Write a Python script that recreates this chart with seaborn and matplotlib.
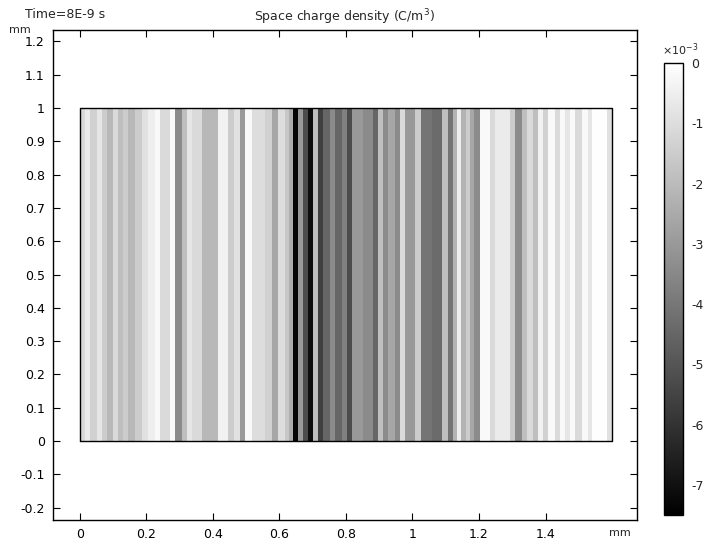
import numpy as np
import matplotlib
matplotlib.use("Agg")
import matplotlib.pyplot as plt
import seaborn as sns

# stripe edges along x (mm) and space charge density in each stripe (x1e-3 C/m^3)
x_edges = [0.000, 0.015, 0.030, 0.051, 0.066, 0.081, 0.099, 0.114, 0.129, 0.144,
           0.165, 0.186, 0.205, 0.226, 0.241, 0.271, 0.286, 0.307, 0.322, 0.337,
           0.367, 0.415, 0.445, 0.463, 0.481, 0.496, 0.517, 0.556, 0.577, 0.595,
           0.617, 0.629, 0.641, 0.656, 0.671, 0.686, 0.701, 0.716, 0.731, 0.752,
           0.767, 0.788, 0.803, 0.818, 0.851, 0.881, 0.896, 0.911, 0.926, 0.947,
           0.962, 0.977, 1.008, 1.026, 1.059, 1.089, 1.107, 1.122, 1.134, 1.146,
           1.161, 1.173, 1.185, 1.203, 1.233, 1.248, 1.293, 1.308, 1.329, 1.344,
           1.362, 1.377, 1.392, 1.408, 1.429, 1.444, 1.459, 1.474, 1.489, 1.510,
           1.528, 1.540, 1.585, 1.600]
y_edges = [0.0, 1.0]
rho = [-1.1, -0.6, -1.35, -0.75, -1.5, -2.1, -1.1, -1.9, -1.5, -2.1,
       -1.5, -0.9, -0.5, -0.2, -1.1, -0.15, -3.4, -1.9, -0.75, -1.1,
       -2.1, -0.4, -1.5, -0.9, -3.0, -0.2, -1.0, -1.35, -2.6, -1.0,
       -1.65, -2.4, -7.3, -3.0, -5.25, -7.1, -1.9, -5.6, -4.5, -3.4,
       -4.5, -3.75, -5.25, -3.0, -3.4, -4.5, -1.9, -3.4, -2.6, -3.4,
       -1.1, -3.0, -1.5, -4.1, -4.35, -1.9, -4.1, -2.25, -0.5, -2.25,
       -1.5, -2.6, -3.4, -0.2, -1.1, -0.6, -1.5, -3.4, -1.9, -1.1,
       -1.9, -0.4, -1.35, -0.2, -1.1, -0.2, -0.75, -0.2, -1.1, -0.2,
       -0.75, -0.05, -0.9]

x_ticks = [0, 0.2, 0.4, 0.6, 0.8, 1, 1.2, 1.4]
x_labels = ["0", "0.2", "0.4", "0.6", "0.8", "1", "1.2", "1.4"]
y_ticks = [-0.2, -0.1, 0, 0.1, 0.2, 0.3, 0.4, 0.5, 0.6, 0.7, 0.8, 0.9, 1, 1.1, 1.2]
y_labels = ["-0.2", "-0.1", "0", "0.1", "0.2", "0.3", "0.4", "0.5", "0.6",
            "0.7", "0.8", "0.9", "1", "1.1", "1.2"]
cb_ticks = [0, -1, -2, -3, -4, -5, -6, -7]

sns.set_style("ticks")
plt.rcParams["font.family"] = ["DejaVu Sans"]
plt.rcParams["axes.unicode_minus"] = False

fig = plt.figure(figsize=(7.2, 5.41), dpi=100)
ax = fig.add_axes([0.0736, 0.0388, 0.8111, 0.9057])
cax = fig.add_axes([0.9222, 0.0481, 0.0264, 0.8354])

mesh = ax.pcolormesh(x_edges, y_edges, np.array([rho]), cmap="gray",
                     vmin=-7.5, vmax=0, shading="flat")
# domain outline
ax.plot([x_edges[0], x_edges[-1], x_edges[-1], x_edges[0], x_edges[0]],
        [y_edges[0], y_edges[0], y_edges[1], y_edges[1], y_edges[0]],
        color="black", lw=1)

ax.set_xlim(-0.081, 1.675)
ax.set_ylim(-0.237, 1.234)
ax.set_xticks(x_ticks)
ax.set_xticklabels(x_labels)
ax.set_yticks(y_ticks)
ax.set_yticklabels(y_labels)
ax.tick_params(direction="in", top=True, right=True, length=5, width=0.8,
               labelsize=9, colors="black", pad=6)
for s in ax.spines.values():
    s.set_visible(True)
    s.set_linewidth(1)
    s.set_color("black")

fig.text(0.027, 0.935, "mm", fontsize=8, ha="center", va="bottom")
fig.text(0.861, 0.005, "mm", fontsize=8, ha="center", va="bottom")
fig.text(0.479, 0.968, "Space charge density (C/m$^3$)", fontsize=9,
         ha="center", va="center")
fig.text(0.035, 0.974, "Time=8E-9 s", fontsize=9, ha="left", va="center")

cb = fig.colorbar(mesh, cax=cax)
cb.set_ticks(cb_ticks)
cb.set_ticklabels([str(t) for t in cb_ticks])
cb.outline.set_linewidth(1)
cb.outline.set_edgecolor("black")
cax.tick_params(direction="in", left=True, right=True, length=4, width=0.8,
                labelsize=9, pad=6)
fig.text(0.945, 0.893, r"$\times$10$^{-3}$", fontsize=8, ha="center", va="bottom")

fig.savefig("out.png", dpi=100)
